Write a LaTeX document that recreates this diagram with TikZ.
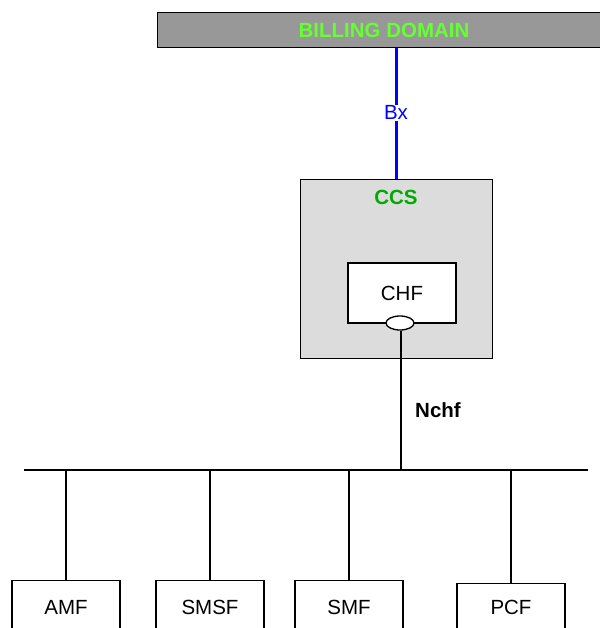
\documentclass[tikz,border=0pt]{standalone}
\usepackage{fontspec}
\setmainfont{Liberation Sans}
\usetikzlibrary{shapes.geometric}
\definecolor{billgreen}{RGB}{102,255,51}
\definecolor{ccsgreen}{RGB}{0,170,0}
\definecolor{billgray}{RGB}{152,152,152}
\definecolor{ccsgray}{RGB}{220,220,220}
\tikzset{
  nf/.style={draw, line width=1.3pt, fill=white, minimum width=108pt, minimum height=80pt, anchor=north, inner sep=0pt},
  lbl/.style={font=\fontsize{20.5}{23}\selectfont, inner sep=1pt},
  blbl/.style={font=\fontsize{20.5}{23}\selectfont\bfseries, inner sep=1pt},
}

\begin{document}
\begin{tikzpicture}[x=1pt, y=-1pt, line width=1.3pt]
\useasboundingbox (0,0) rectangle (599,628);

\node[draw, line width=1pt, fill=billgray, minimum width=454pt, minimum height=35pt, inner sep=0pt] (bd) at (384,30.5) {};
\node[blbl, text=billgreen] (bdtext) at (384,30) {BILLING DOMAIN};

\node[draw, line width=1pt, fill=ccsgray, minimum width=192pt, minimum height=178pt, inner sep=0pt] (ccs) at (396,269) {};
\node[blbl, text=ccsgreen] (ccstext) at (396,197) {CCS};

\node[draw, fill=white, minimum width=108pt, minimum height=60pt, inner sep=0pt] (chf) at (402,293) {};
\node[lbl] (chftext) at (402,293) {CHF};
\node[draw, ellipse, fill=white, minimum width=28pt, minimum height=14pt, inner sep=0pt] (port) at (400,323) {};

\draw[blue, line width=3pt] (bd.south -| ccs.north) -- (ccs.north)
  node[pos=0.49, fill=white, text=blue, lbl] (bx) {Bx};

\coordinate (busL) at (24,470);
\coordinate (busR) at (588,470);
\coordinate (nchfbus) at (401,470);
\draw (busL) -- (busR);
\draw (port.south -| nchfbus) -- (nchfbus);
\node[blbl] (nchf) at (438,410) {Nchf};

\node[nf] (amf) at (66,580) {};
\node[nf] (smsf) at (210,580) {};
\node[nf] (smf) at (349,580) {};
\node[nf] (pcf) at (511,583) {};
\node[lbl] (amftext) at (66,607) {AMF};
\node[lbl] (smsftext) at (210,607) {SMSF};
\node[lbl] (smftext) at (349,607) {SMF};
\node[lbl] (pcftext) at (511,607) {PCF};

\draw (amf.north) -- (amf.north |- busL);
\draw (smsf.north) -- (smsf.north |- busL);
\draw (smf.north) -- (smf.north |- busL);
\draw (pcf.north) -- (pcf.north |- busL);
\end{tikzpicture}
\end{document}
